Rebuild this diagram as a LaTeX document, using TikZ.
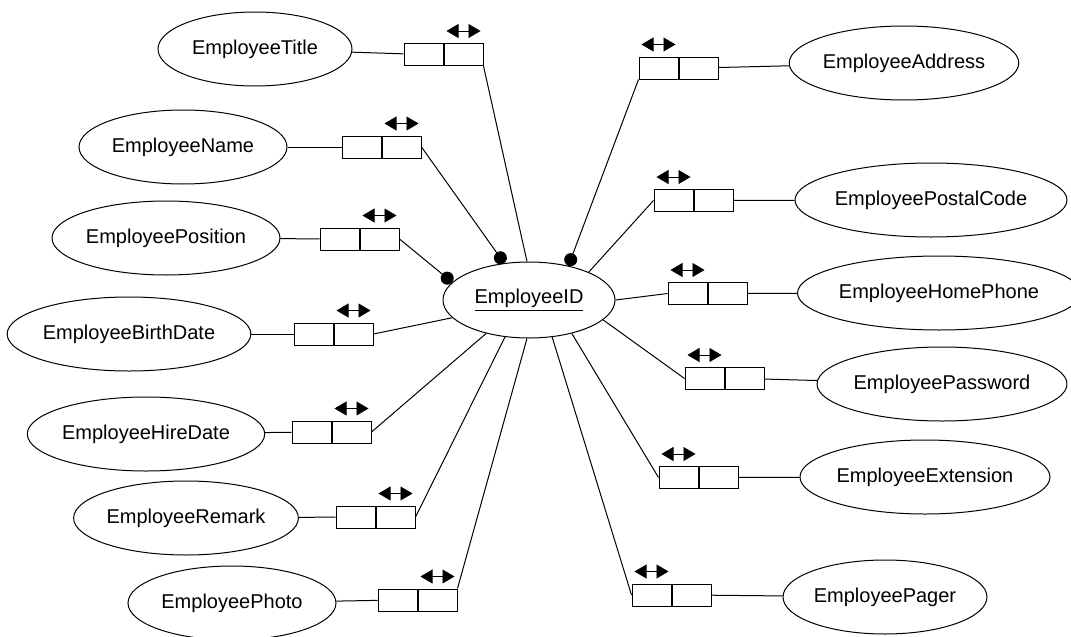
\documentclass[tikz,border=0pt]{standalone}
\usepackage{fontspec}
\setmainfont{Liberation Sans}
\usetikzlibrary{shapes.geometric,arrows.meta,positioning}

\begin{document}
\begin{tikzpicture}[x=0.5pt,y=-0.5pt,
    attr/.style={ellipse, draw, line width=0.5pt, inner sep=0pt,
                 minimum height=37pt, font=\fontsize{10}{12}\selectfont},
    cell/.style={rectangle, draw, line width=0.5pt, inner sep=0pt,
                 minimum width=19.5pt, minimum height=11pt},
    link/.style={line width=0.5pt},
    dot/.style={link, -{Circle[length=6.5pt]}},
    twoway/.style={line width=0.3pt, {Triangle[length=6pt,width=7pt]}-{Triangle[length=6pt,width=7pt]}}]
  \useasboundingbox (0,0) rectangle (1071,637);

  % key attribute
  \node[attr, minimum width=86pt, minimum height=38pt] (id) at (529,300) {\underline{EmployeeID}};

  % attributes, left side
  \node[attr, minimum width=97pt]  (title)  at (255,49)  {EmployeeTitle};
  \node[attr, minimum width=104pt] (name)   at (183,147) {EmployeeName};
  \node[attr, minimum width=114pt] (pos)    at (166,238) {EmployeePosition};
  \node[attr, minimum width=120pt] (birth)  at (129,334) {EmployeeBirthDate};
  \node[attr, minimum width=117pt] (hire)   at (146,434) {EmployeeHireDate};
  \node[attr, minimum width=112pt] (remark) at (186,518) {EmployeeRemark};
  \node[attr, minimum width=104pt] (photo)  at (232,603) {EmployeePhoto};

  % attributes, right side
  \node[attr, minimum width=114pt] (addr)   at (904,63)  {EmployeeAddress};
  \node[attr, minimum width=131pt] (post)   at (931,200) {EmployeePostalCode};
  \node[attr, minimum width=130pt] (home)   at (939,293) {EmployeeHomePhone};
  \node[attr, minimum width=122pt] (pass)   at (942,384) {EmployeePassword};
  \node[attr, minimum width=122pt] (ext)    at (925,477) {EmployeeExtension};
  \node[attr, minimum width=102pt] (pager)  at (885,597) {EmployeePager};

  % cardinality boxes
  \node[cell] (titleA)  at (423.5,54.5) {};
  \node[cell, right=0pt of titleA] (titleB) {};
  \node[cell] (nameA)   at (361.5,147) {};
  \node[cell, right=0pt of nameA] (nameB) {};
  \node[cell] (posA)    at (339.5,239) {};
  \node[cell, right=0pt of posA] (posB) {};
  \node[cell] (birthA)  at (313.5,334) {};
  \node[cell, right=0pt of birthA] (birthB) {};
  \node[cell] (hireA)   at (311.5,432) {};
  \node[cell, right=0pt of hireA] (hireB) {};
  \node[cell] (remarkA) at (355.5,517) {};
  \node[cell, right=0pt of remarkA] (remarkB) {};
  \node[cell] (photoA)  at (397.5,600) {};
  \node[cell, right=0pt of photoA] (photoB) {};

  \node[cell] (addrA)   at (658.5,68) {};
  \node[cell, right=0pt of addrA] (addrB) {};
  \node[cell] (postA)   at (673.5,200.5) {};
  \node[cell, right=0pt of postA] (postB) {};
  \node[cell] (homeA)   at (687.5,293.5) {};
  \node[cell, right=0pt of homeA] (homeB) {};
  \node[cell] (passA)   at (704.5,378.5) {};
  \node[cell, right=0pt of passA] (passB) {};
  \node[cell] (extA)    at (678.5,477.5) {};
  \node[cell, right=0pt of extA] (extB) {};
  \node[cell] (pagerA)  at (651.5,595) {};
  \node[cell, right=0pt of pagerA] (pagerB) {};

  % two-way markers over the boxes
  \foreach \c in {titleB,nameB,posB,birthB,hireB,remarkB,photoB,
                  addrA,postA,homeA,passA,extA,pagerA}
    \draw[twoway] ([xshift=-8.5pt,yshift=6pt]\c.north) -- ([xshift=8.5pt,yshift=6pt]\c.north);

  % attribute to box
  \foreach \a in {title,name,pos,birth,hire,remark,photo}
    \draw[link] (\a) -- (\a A);
  \foreach \a in {addr,post,home,pass,ext,pager}
    \draw[link] (\a B) -- (\a);

  % box to key
  \draw[link] (titleB.south east) -- (id.93);
  \draw[dot]  (nameB.east) -- (id.124);
  \draw[dot]  (posB.east) -- (id.167);
  \draw[link] (birthB.east) -- (id.193);
  \draw[link] (hireB.east) -- (id.218);
  \draw[link] (remarkB.east) -- (id.237);
  \draw[link] (photoB.north east) -- (id.267);
  \draw[dot]  (addrA.south west) -- (id.41);
  \draw[link] (postA.west) -- (id.25);
  \draw[link] (homeA.west) -- (id.0);
  \draw[link] (passA.west) -- (id.345);
  \draw[link] (extA.west) -- (id.322);
  \draw[link] (pagerA.west) -- (id.302);
\end{tikzpicture}
\end{document}
